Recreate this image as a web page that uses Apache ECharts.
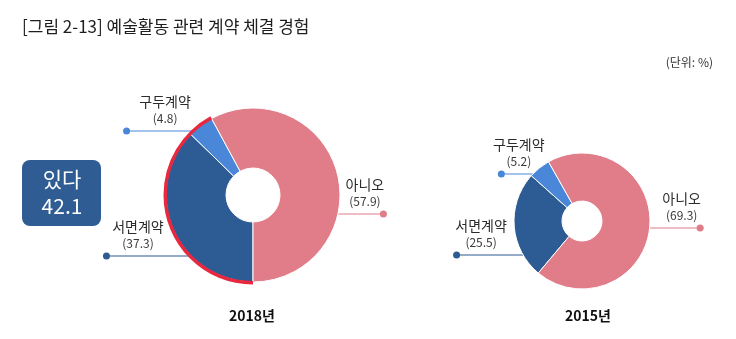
<!DOCTYPE html>
<html>
<head>
<meta charset="utf-8">
<script src="https://cdn.jsdelivr.net/npm/echarts@6/dist/echarts.min.js"></script>
<style>
  html, body { margin: 0; padding: 0; background: #fff; }
  #chart { width: 736px; height: 339px; }
</style>
</head>
<body>
<div id="chart"></div>
<script>
// Contract types and shares (%) by survey year
const categories = ['서면계약', '구두계약', '아니오'];
const years = ['2018년', '2015년'];
const values2018 = [37.3, 4.8, 57.9];
const values2015 = [25.5, 5.2, 69.3];
const yesLabel = '있다';

const sliceColors = ['#2d5b94', '#4a87d9', '#e07d89'];
const ringColor = '#e8283f';
const FONT = '"Noto Sans CJK KR", "Noto Sans", sans-serif';

// Donut geometry and leader-line layout per slice:
// dy = leader height relative to the centre, len = leader length,
// tx = text centre offset from the end dot, side = -1 left / 1 right
const pies = [
  { values: values2018, center: [253, 195], inner: 27, outer: 87, startAngle: -90, captionX: 252,
    leaders: [ { dy: 61, len: 88, tx: 35, side: -1 }, { dy: -64, len: 71, tx: 42, side: -1 }, { dy: 19, len: 49, tx: -22, side: 1 } ] },
  { values: values2015, center: [582, 221], inner: 20, outer: 68, startAngle: -130, captionX: 588,
    leaders: [ { dy: 34, len: 70, tx: 28, side: -1 }, { dy: -47, len: 35, tx: 21, side: -1 }, { dy: 7, len: 54, tx: -22, side: 1 } ] }
];

function leaderGeometry(pie, idx) {
  const L = pie.leaders[idx];
  const cx = pie.center[0], cy = pie.center[1];
  const ay = cy + L.dy;
  const ax = cx + L.side * Math.sqrt(pie.outer * pie.outer - L.dy * L.dy);
  const dotX = ax + L.side * L.len;
  return { ax, ay, dotX, textX: dotX + L.tx, width: Math.abs(L.tx) * 2 };
}

function richFor(pie) {
  const rich = {
    n: { fontSize: 14, lineHeight: 16, color: '#2b2b2b', align: 'center', fontFamily: FONT },
    v: { fontSize: 12, lineHeight: 16, color: '#3a3a3a', align: 'center', fontFamily: FONT }
  };
  pie.leaders.forEach((L, i) => {
    rich['d' + i] = { width: 7, height: 7, borderRadius: 3.5, lineHeight: 10,
      backgroundColor: sliceColors[i], align: L.side < 0 ? 'left' : 'right' };
  });
  return rich;
}

const series = [];
pies.forEach((pie) => {
  series.push({
    type: 'pie',
    center: pie.center,
    radius: [pie.inner, pie.outer],
    startAngle: pie.startAngle,
    clockwise: true,
    avoidLabelOverlap: false,
    minShowLabelAngle: 0,
    animation: false,
    silent: true,
    itemStyle: { borderColor: '#fff', borderWidth: 1 },
    label: {
      show: true,
      position: 'outside',
      overflow: 'none',
      formatter: p => `{n|${p.name}}\n{v|(${p.value.toFixed(1)})}\n{d${p.dataIndex}|}`,
      rich: richFor(pie)
    },
    labelLine: { show: true, length: 0, length2: 10, smooth: false, lineStyle: { width: 1.2 } },
    labelLayout: params => {
      const g = leaderGeometry(pie, params.dataIndex);
      return {
        x: g.textX,
        y: g.ay + 5,
        align: 'center',
        verticalAlign: 'bottom',
        width: g.width,
        labelLinePoints: [[g.ax, g.ay], [g.dotX, g.ay]]
      };
    },
    data: categories.map((name, i) => ({
      name,
      value: pie.values[i],
      itemStyle: { color: sliceColors[i] }
    }))
  });
});

// Red outline around the "yes" share (written + verbal) of 2018
const yesShare2018 = values2018[0] + values2018[1];
series.push({
  type: 'pie',
  center: pies[0].center,
  radius: [pies[0].outer - 1, pies[0].outer + 2.5],
  startAngle: pies[0].startAngle,
  clockwise: true,
  animation: false,
  silent: true,
  z: 3,
  label: { show: false },
  labelLine: { show: false },
  itemStyle: { borderWidth: 0 },
  data: [
    { value: yesShare2018, itemStyle: { color: ringColor } },
    { value: values2018[2], itemStyle: { color: 'rgba(0,0,0,0)' } }
  ]
});

const chart = echarts.init(document.getElementById('chart'), null, { renderer: 'canvas' });
chart.setOption({
  backgroundColor: '#fff',
  animation: false,
  title: {
    text: '[그림 2-13] 예술활동 관련 계약 체결 경험',
    left: 17, top: 13,
    textStyle: { fontSize: 17, fontWeight: 'normal', color: '#1e1e1e', fontFamily: FONT }
  },
  graphic: [
    { type: 'text', x: 713, y: 62,
      style: { text: '(단위: %)', font: '12px ' + FONT, fill: '#333', textAlign: 'right', textVerticalAlign: 'middle' } },
    { type: 'group', x: 22, y: 160, children: [
      { type: 'rect', shape: { x: 0, y: 0, width: 79, height: 66, r: 8 }, style: { fill: '#2e5c93' } },
      { type: 'text', x: 40, y: 33,
        style: { text: yesLabel + '\n' + yesShare2018.toFixed(1), font: '21px ' + FONT, lineHeight: 27,
                 fill: '#fff', textAlign: 'center', textVerticalAlign: 'middle' } }
    ] },
    ...pies.map((pie, i) => ({
      type: 'text', x: pie.captionX, y: 316,
      style: { text: years[i], font: 'bold 14px ' + FONT, fill: '#111', textAlign: 'center', textVerticalAlign: 'middle' }
    }))
  ],
  series
});
</script>
</body>
</html>
